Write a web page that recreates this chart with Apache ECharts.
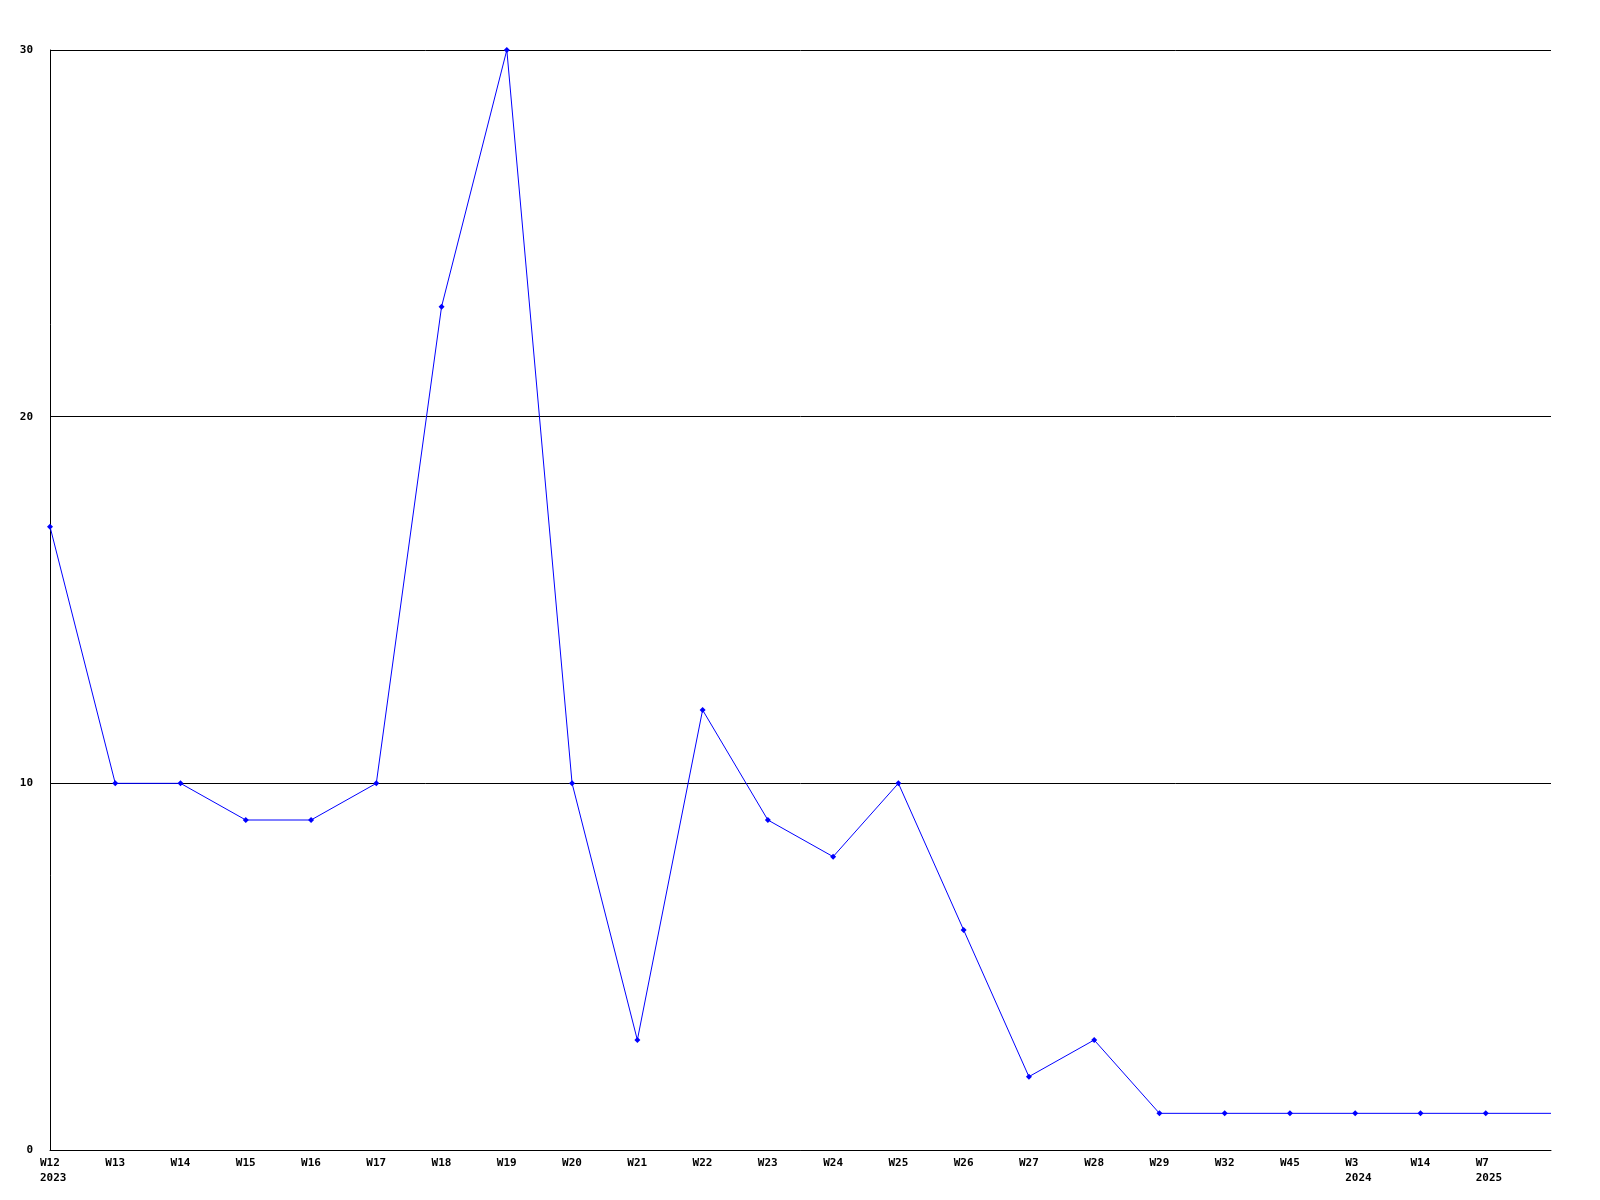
<!DOCTYPE html>
<html>
<head>
<meta charset="utf-8">
<script src="https://cdn.jsdelivr.net/npm/echarts@6/dist/echarts.min.js"></script>
<style>
  html, body { margin: 0; padding: 0; background: #fff; }
  #chart { width: 1600px; height: 1200px; }
</style>
</head>
<body>
<div id="chart"></div>
<script>
// weekly counts, the last slot is the open end of the line (no label)
var weeks = ['W12', 'W13', 'W14', 'W15', 'W16', 'W17', 'W18', 'W19', 'W20', 'W21', 'W22', 'W23',
  'W24', 'W25', 'W26', 'W27', 'W28', 'W29', 'W32', 'W45', 'W3', 'W14', 'W7', '']
var years = ['2023', '', '', '', '', '', '', '', '', '', '', '',
  '', '', '', '', '', '', '', '', '2024', '', '2025', '']
var counts = [17, 10, 10, 9, 9, 10, 23, 30, 10, 3, 12, 9, 8, 10, 6, 2, 3, 1, 1, 1, 1, 1, 1, 1]
var yTicks = [0, 10, 20, 30]

var chart = echarts.init(document.getElementById('chart'))

var labels = weeks.map(function(w, i) {
  return years[i] ? w + '\n' + years[i] : w
})
var seriesData = counts.map(function(v, i) {
  // no marker on the trailing end point
  return i === counts.length - 1 ? { value: v, symbol: 'none' } : v
})

var font = { fontFamily: 'DejaVu Sans Mono', fontSize: 11, fontWeight: 'bold', color: '#000' }

chart.setOption({
  animation: false,
  backgroundColor: '#fff',
  grid: {
    left: 50,
    right: 49,
    top: 50,
    bottom: 50
  },
  xAxis: {
    type: 'category',
    data: labels,
    boundaryGap: false,
    axisLine: { lineStyle: { color: '#000', width: 1 } },
    axisTick: { show: false },
    splitLine: { show: false },
    axisLabel: {
      interval: 0,
      margin: 6,
      formatter: function(val) {
        var parts = val.split('\n')
        return parts.map(function(p) { return '{a|' + p + '}' }).join('\n')
      },
      rich: {
        a: Object.assign({ width: 20, align: 'left', lineHeight: 15 }, font)
      }
    }
  },
  yAxis: {
    type: 'value',
    min: yTicks[0],
    max: yTicks[yTicks.length - 1],
    interval: 10,
    axisLine: { show: true, lineStyle: { color: '#000', width: 1 } },
    axisTick: { show: false },
    splitLine: { show: true, lineStyle: { color: '#000', width: 1 } },
    axisLabel: Object.assign({ margin: 17 }, font)
  },
  series: [{
    type: 'line',
    data: seriesData,
    symbol: 'diamond',
    symbolSize: 6,
    showSymbol: true,
    lineStyle: { color: '#0000ff', width: 1 },
    itemStyle: { color: '#0000ff' },
    emphasis: { disabled: true }
  }]
})
</script>
</body>
</html>
